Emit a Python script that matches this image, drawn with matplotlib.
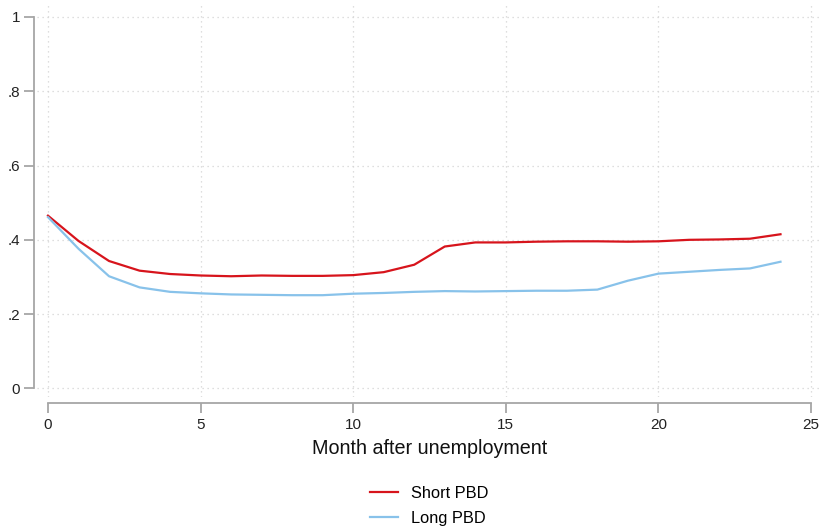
import matplotlib
matplotlib.use("Agg")
import matplotlib.pyplot as plt
from matplotlib.ticker import FixedLocator

plt.rcParams['font.family'] = ['Liberation Sans', 'DejaVu Sans']

months = list(range(25))
short_pbd = [0.465, 0.397, 0.343, 0.317, 0.308, 0.304, 0.302, 0.304, 0.303, 0.303,
             0.305, 0.313, 0.333, 0.382, 0.393, 0.393, 0.395, 0.396, 0.396, 0.395,
             0.396, 0.400, 0.401, 0.403, 0.415]
long_pbd = [0.461, 0.376, 0.302, 0.272, 0.260, 0.256, 0.253, 0.252, 0.251, 0.251,
            0.255, 0.257, 0.260, 0.262, 0.261, 0.262, 0.263, 0.263, 0.266, 0.290,
            0.309, 0.314, 0.319, 0.323, 0.341]
series_labels = ["Short PBD", "Long PBD"]
y_ticks = [0, 0.2, 0.4, 0.6, 0.8, 1.0]
y_ticklabels = ["0", ".2", ".4", ".6", ".8", "1"]
x_ticks = [0, 5, 10, 15, 20, 25]
x_label = "Month after unemployment"

W, H = 822, 529
fig = plt.figure(figsize=(W / 100, H / 100), dpi=100)
ax = fig.add_axes([37 / W, 1 - 397 / H, (822 - 37) / W, (397 - 5) / H])

ax.plot(months, short_pbd, color="#d7141c", lw=1.6, label=series_labels[0])
ax.plot(months, long_pbd, color="#88c2ea", lw=1.6, label=series_labels[1])

ax.set_xlim(-0.36, 25.36)
ax.set_ylim(-0.023, 1.032)

ax.xaxis.set_major_locator(FixedLocator(x_ticks))
ax.yaxis.set_major_locator(FixedLocator(y_ticks))
ax.set_yticklabels(y_ticklabels)

ax.grid(True, color="#d4d4d4", linestyle=(0, (1, 3)), lw=0.9)
ax.set_axisbelow(True)

for s in ["top", "right"]:
    ax.spines[s].set_visible(False)
spine_c = "#a6a6a6"
ax.spines["left"].set_position(("outward", 2))
ax.spines["bottom"].set_position(("outward", 4))
ax.spines["left"].set_bounds(0, 1)
ax.spines["bottom"].set_bounds(0, 25)
for s in ["left", "bottom"]:
    ax.spines[s].set_color(spine_c)
    ax.spines[s].set_linewidth(1.3)

ax.tick_params(axis="both", colors=spine_c, labelcolor="#222222", length=7, width=1.3,
               labelsize=11)
ax.tick_params(axis="y", pad=3)
ax.tick_params(axis="x", pad=4)

ax.set_xlabel(x_label, fontsize=14.2, color="#111111", labelpad=5)

fig.legend(loc="upper center", bbox_to_anchor=(429 / W, 1 - 486 / H), frameon=False,
           fontsize=11.8, handlelength=1.7, handletextpad=0.8, labelspacing=0.58,
           borderpad=0.0, borderaxespad=0.0, ncol=1)

fig.savefig("out.png", dpi=100)
